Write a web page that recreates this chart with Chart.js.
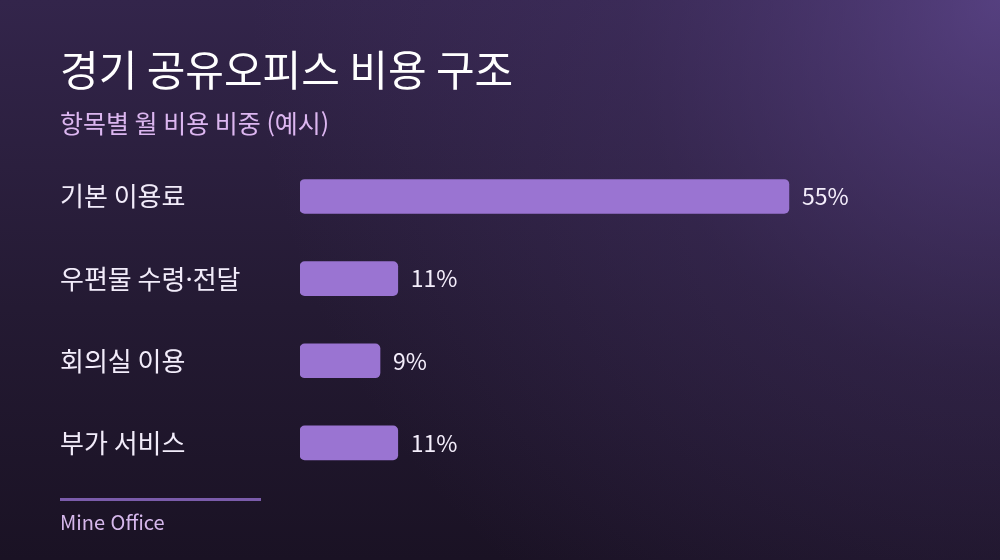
<!DOCTYPE html>
<html lang="ko">
<head>
<meta charset="utf-8">
<title>경기 공유오피스 비용 구조</title>
<script src="https://cdn.jsdelivr.net/npm/chart.js@4.4.1/dist/chart.umd.min.js"></script>
<style>
  html, body { margin: 0; padding: 0; background: #1a1224; }
  #wrap { width: 1000px; height: 560px; position: relative; }
</style>
</head>
<body>
<div id="wrap"><canvas id="myChart"></canvas></div>
<script>
// data
const categories = ['기본 이용료', '우편물 수령·전달', '회의실 이용', '부가 서비스'];
const shares = [55, 11, 9, 11];
const titleText = '경기 공유오피스 비용 구조';
const subtitleText = '항목별 월 비용 비중 (예시)';
const sourceText = 'Mine Office';

const fontFamily = '"Noto Sans CJK KR", "Noto Sans", sans-serif';

// background gradient
const bgPlugin = {
  id: 'bg',
  beforeDraw(chart) {
    const c = chart.ctx;
    const w = chart.width, h = chart.height;
    c.save();
    let lin = c.createLinearGradient(0, 0, 0, h);
    lin.addColorStop(0, '#33254b');
    lin.addColorStop(0.55, '#241a33');
    lin.addColorStop(1, '#1a1224');
    c.fillStyle = lin;
    c.fillRect(0, 0, w, h);
    let rad = c.createRadialGradient(w, 0, 0, w, 0, 750);
    rad.addColorStop(0, 'rgba(100, 75, 150, 0.7)');
    rad.addColorStop(0.5, 'rgba(80, 58, 120, 0.28)');
    rad.addColorStop(1, 'rgba(80, 58, 120, 0)');
    c.fillStyle = rad;
    c.fillRect(0, 0, w, h);
    c.restore();
  }
};

// value labels + footer
const labelPlugin = {
  id: 'valueLabels',
  afterDatasetsDraw(chart) {
    const c = chart.ctx;
    const meta = chart.getDatasetMeta(0);
    c.save();
    c.font = '23px ' + fontFamily;
    c.fillStyle = '#f4eefb';
    c.textBaseline = 'middle';
    c.textAlign = 'left';
    meta.data.forEach((bar, i) => {
      c.fillText(shares[i] + '%', bar.x + 13, bar.y);
    });

    c.strokeStyle = '#7b5cab';
    c.lineWidth = 3;
    c.beginPath();
    c.moveTo(60, 499.5);
    c.lineTo(261, 499.5);
    c.stroke();

    c.font = '20px ' + fontFamily;
    c.fillStyle = '#d6b8ec';
    c.fillText(sourceText, 60, 522);
    c.restore();
  }
};

const ctx = document.getElementById('myChart');

new Chart(ctx, {
  type: 'bar',
  data: {
    labels: categories,
    datasets: [{
      data: shares,
      backgroundColor: '#9a74d2',
      borderRadius: 5,
      borderSkipped: false,
      barThickness: 34
    }]
  },
  options: {
    indexAxis: 'y',
    responsive: true,
    maintainAspectRatio: false,
    animation: false,
    layout: {
      padding: { top: 45, left: 60, right: 60, bottom: 76 }
    },
    scales: {
      x: {
        display: false,
        min: 0,
        max: 72
      },
      y: {
        grid: { display: false },
        border: { display: false },
        afterFit(scale) { scale.width = 240; },
        ticks: {
          crossAlign: 'far',
          color: '#f2ecfa',
          padding: 0,
          font: { family: fontFamily, size: 26 }
        }
      }
    },
    plugins: {
      legend: { display: false },
      tooltip: { enabled: false },
      title: {
        display: true,
        text: titleText,
        align: 'start',
        color: '#ffffff',
        font: { family: fontFamily, size: 42, weight: 'normal' },
        padding: { top: 0, bottom: 13 }
      },
      subtitle: {
        display: true,
        text: subtitleText,
        align: 'start',
        color: '#dcb6f0',
        font: { family: fontFamily, size: 25, weight: 'normal' },
        padding: { top: 0, bottom: 17 }
      }
    }
  },
  plugins: [bgPlugin, labelPlugin]
});
</script>
</body>
</html>
